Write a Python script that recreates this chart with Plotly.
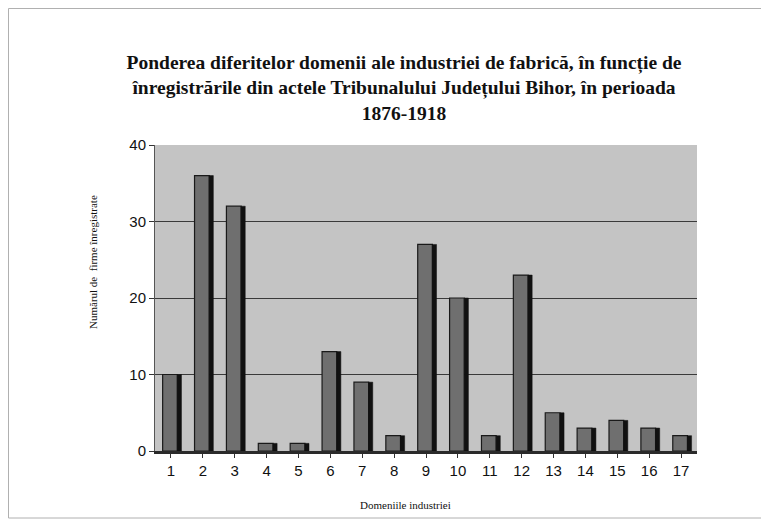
import plotly.graph_objects as go

categories = [str(i) for i in range(1, 18)]
values = [10, 36, 32, 1, 1, 13, 9, 2, 27, 20, 2, 23, 5, 3, 4, 3, 2]
y_ticks = [0, 10, 20, 30, 40]

title_text = ("<b>Ponderea diferitelor domenii ale industriei de fabrică, în funcție de<br>"
              "înregistrările din actele Tribunalului Județului Bihor, în perioada<br>"
              "1876-1918</b>")
x_title = "Domeniile industriei"
y_title = "Numărul de  firme înregistrate"

W, H = 769, 526
ml, mr, mt, mb = 147, 80, 137, 83

fig = go.Figure()
# main face of bars
fig.add_trace(go.Bar(
    x=categories, y=values, width=0.46, offset=-0.26,
    marker=dict(color="#6f6f6f", line=dict(color="#1a1a1a", width=1.2)),
    showlegend=False, hoverinfo="x+y"))
# dark side face (3D effect)
fig.add_trace(go.Bar(
    x=categories, y=values, width=0.13, offset=0.2,
    marker=dict(color="#111111", line=dict(color="#111111", width=0.5)),
    showlegend=False, hoverinfo="skip"))

fig.update_layout(
    width=W, height=H,
    margin=dict(l=ml, r=mr, t=mt, b=mb),
    paper_bgcolor="white",
    plot_bgcolor="#c4c4c4",
    barmode="overlay",
    title=dict(text=title_text, x=0.515, xanchor="center", y=0.884, yanchor="middle",
               font=dict(family="Liberation Serif", size=19.5, color="#111111")),
    font=dict(family="Liberation Sans", color="#111111"),
    xaxis=dict(
        type="category", range=[-0.5, 16.5],
        showgrid=False, showline=True, linecolor="#2a2a2a", linewidth=3,
        ticks="outside", ticklen=4, tickcolor="#333333",
        tickfont=dict(family="Liberation Sans", size=15, color="#111111"),
    ),
    yaxis=dict(
        range=[0, 40], tickvals=y_ticks,
        showgrid=True, gridcolor="#3a3a3a", gridwidth=1,
        showline=True, linecolor="#555555", linewidth=1,
        ticks="outside", ticklen=5, tickcolor="#333333",
        tickfont=dict(family="Liberation Sans", size=15, color="#111111"),
        zeroline=False,
    ),
)

# helpers: figure pixel -> paper coords
pw, ph = W - ml - mr, H - mt - mb
def px_x(p):
    return (p - ml) / pw
def px_y(p):
    return (H - mb - p) / ph

# axis titles
fig.add_annotation(text=y_title, xref="paper", yref="paper",
                   x=px_x(85), y=px_y(254), textangle=-90, showarrow=False,
                   xanchor="center", yanchor="middle",
                   font=dict(family="Liberation Serif", size=11, color="#111111"))
fig.add_annotation(text=x_title, xref="paper", yref="paper",
                   x=px_x(397), y=px_y(497), showarrow=False,
                   xanchor="center", yanchor="middle",
                   font=dict(family="Liberation Serif", size=11, color="#111111"))

# outer frame (left, top, bottom edges)
frame = dict(color="#b0b0b0", width=1)
fig.add_shape(type="line", xref="paper", yref="paper",
              x0=px_x(0.5), x1=px_x(0.5), y0=px_y(0.5), y1=px_y(510), line=frame)
fig.add_shape(type="line", xref="paper", yref="paper",
              x0=px_x(0.5), x1=px_x(W), y0=px_y(0.5), y1=px_y(0.5), line=frame)
fig.add_shape(type="line", xref="paper", yref="paper",
              x0=px_x(0.5), x1=px_x(W), y0=px_y(510), y1=px_y(510), line=frame)

fig.write_html("out.html")
